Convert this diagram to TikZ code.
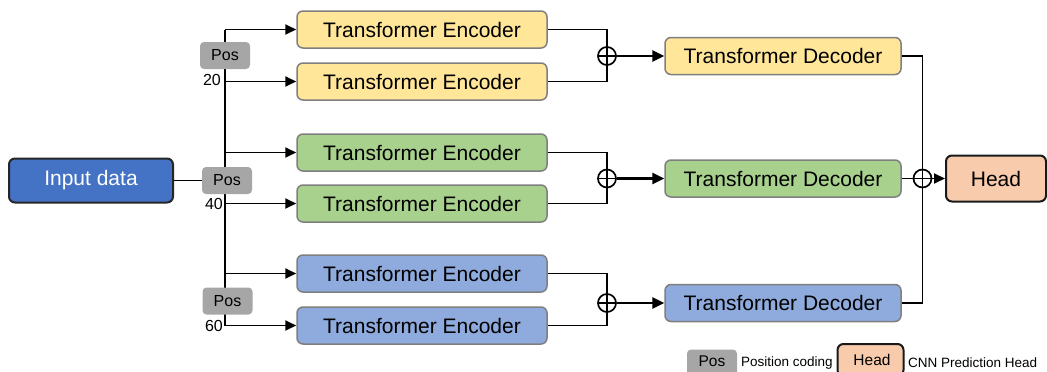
\documentclass[tikz,border=0pt]{standalone}
\usepackage{fontspec}
\setmainfont{Liberation Sans}
\usetikzlibrary{arrows.meta,backgrounds,calc}

\definecolor{encyellow}{HTML}{FFE699}
\definecolor{encgreen}{HTML}{A9D18E}
\definecolor{encblue}{HTML}{8FAADC}
\definecolor{inblue}{HTML}{4472C4}
\definecolor{headfill}{HTML}{F8CBAD}
\definecolor{posgray}{HTML}{A6A6A6}
\definecolor{boxedge}{HTML}{7F7F7F}

\tikzset{
  block/.style={rectangle, rounded corners=6pt, draw=boxedge, line width=1.5pt,
    minimum height=37pt, inner sep=0pt, font=\fontsize{21}{25}\selectfont},
  encbox/.style={block, minimum width=250pt},
  decbox/.style={block, minimum width=236pt},
  posbox/.style={rectangle, rounded corners=4pt, fill=posgray, minimum width=50pt,
    minimum height=27pt, inner sep=0pt, font=\fontsize{16}{18}\selectfont},
  numlabel/.style={anchor=east, inner sep=0pt, font=\fontsize{16}{18}\selectfont},
  oplus/.style={circle, draw, line width=1.7pt, minimum size=18pt, inner sep=0pt,
    path picture={
      \draw[line width=1.7pt] (path picture bounding box.north) -- (path picture bounding box.south)
        (path picture bounding box.west) -- (path picture bounding box.east);}},
  wire/.style={line width=1.8pt, line join=miter},
  arr/.style={wire, -{Triangle[length=11pt,width=10pt]}},
  boldarr/.style={line width=2.5pt, -{Triangle[length=12pt,width=11pt]}},
  legtext/.style={anchor=west, inner sep=0pt, font=\fontsize{13.5}{15}\selectfont}
}

\begin{document}
\begin{tikzpicture}[x=1pt, y=-1pt]
  \path[use as bounding box, clip] (0,0) rectangle (1047,372);

  % input
  \node[block, draw=black!85, line width=2pt, fill=inblue, text=white,
        minimum width=164pt, minimum height=44pt] (in) at (91,180.5) {Input data};

  % position coding boxes and their lengths
  \node[posbox] (p20) at (225,55.5) {Pos};
  \node[posbox] (p40) at (227,180.5) {Pos};
  \node[posbox] (p60) at (227.5,301) {Pos};
  \node[numlabel] (n20) at (221,80) {20};
  \node[numlabel] (n40) at (223,204) {40};
  \node[numlabel] (n60) at (223,326) {60};

  % encoders
  \node[encbox, fill=encyellow] (e1) at (422,29.5) {Transformer Encoder};
  \node[encbox, fill=encyellow] (e2) at (422,81.5) {Transformer Encoder};
  \node[encbox, fill=encgreen]  (e3) at (422,152.5) {Transformer Encoder};
  \node[encbox, fill=encgreen]  (e4) at (422,203.5) {Transformer Encoder};
  \node[encbox, fill=encblue]   (e5) at (422,273.5) {Transformer Encoder};
  \node[encbox, fill=encblue]   (e6) at (422,325.5) {Transformer Encoder};

  % fusion points
  \node[oplus] (m1) at (607,56) {};
  \node[oplus] (m2) at (607,178.5) {};
  \node[oplus] (m3) at (607,303) {};

  % decoders
  \node[decbox, fill=encyellow] (d1) at (783,56) {Transformer Decoder};
  \node[decbox, fill=encgreen]  (d2) at (783,178.5) {Transformer Decoder};
  \node[decbox, fill=encblue]   (d3) at (783,303) {Transformer Decoder};

  \node[oplus] (m4) at (922.5,178.5) {};

  % prediction head
  \node[block, draw=black!90, line width=2pt, fill=headfill,
        minimum width=100pt, minimum height=46pt] (head) at (996,178.5) {Head};

  % trunk that feeds every encoder
  \coordinate (trunk) at (225,30);
  \coordinate (trunkend) at (225,326);

  \begin{pgfonlayer}{background}
    \draw[wire] (in.east) -- (in.east -| p40.west);
    \draw[wire] (trunk) -- (trunkend);
    \foreach \e in {e1,e2,e3,e4,e5,e6}
      \draw[arr] (trunk |- \e.west) -- (\e.west);
  \end{pgfonlayer}

  % merging encoder outputs
  \draw[wire] (e1.east) -| (m1.center) |- (e2.east);
  \draw[wire] (e3.east) -| (m2.center) |- (e4.east);
  \draw[wire] (e5.east) -| (m3.center) |- (e6.east);
  \draw[boldarr] (m1.east) -- (d1.west);
  \draw[boldarr] (m2.east) -- (d2.west);
  \draw[boldarr] (m3.east) -- (d3.west);

  % merging decoder outputs
  \draw[wire] (d1.east) -| (m4.center) |- (d3.east);
  \draw[wire] (d2.east) -- (m4.west);
  \draw[arr] (m4.east) -- (head.west);

  % legend
  \node[posbox, font=\fontsize{15.5}{17}\selectfont] (lpos) at (712,363) {};
  \node[inner sep=0pt, font=\fontsize{15.5}{17}\selectfont] (lpostxt) at (712,361) {Pos};
  \node[legtext] (lposdesc) at (741,363) {Position coding};
  \node[block, draw=black!90, line width=2pt, fill=headfill,
        minimum width=66pt, minimum height=32pt] (lhead) at (870.5,360) {};
  \node[inner sep=0pt, font=\fontsize{15.5}{17}\selectfont] (lheadtxt) at (872,360) {Head};
  \node[legtext] (lheaddesc) at (908,363) {CNN Prediction Head};
\end{tikzpicture}
\end{document}
